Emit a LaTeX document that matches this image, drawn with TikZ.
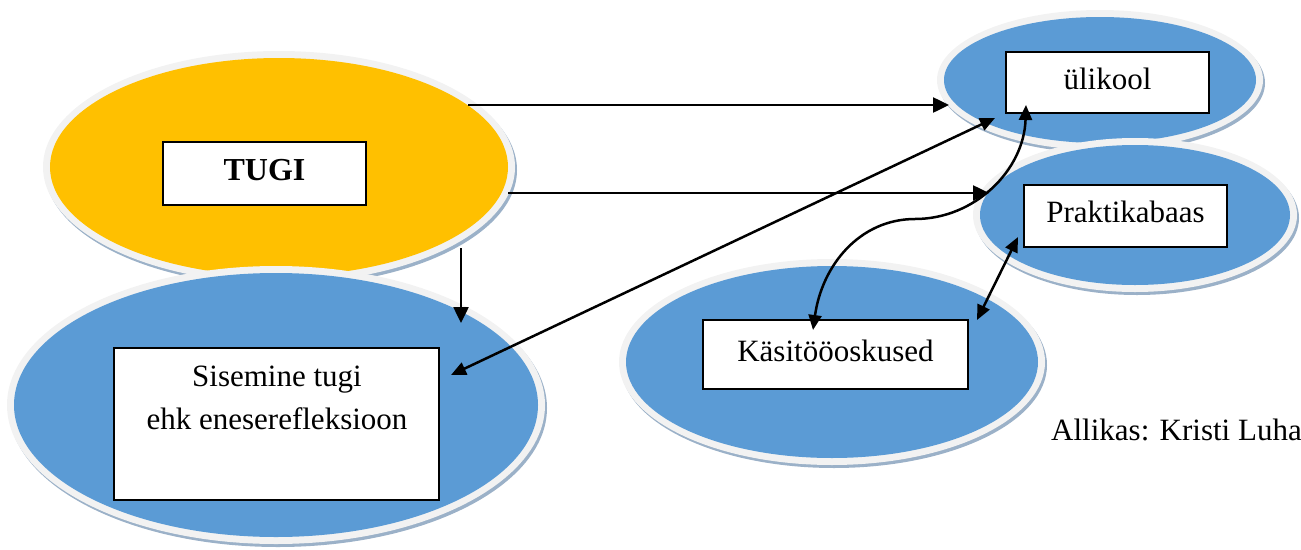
\documentclass[tikz,border=0pt]{standalone}
\usepackage{fontspec}
\setmainfont{Liberation Serif}
\usetikzlibrary{arrows.meta,shapes.geometric}
\definecolor{tugiyellow}{HTML}{FFC000}
\definecolor{blobblue}{HTML}{5B9BD5}
\definecolor{rimgray}{HTML}{F2F2F2}
\definecolor{shadowc}{HTML}{9BB1C8}
\newcommand\drawblob[6]{%
  \fill[shadowc] (#2+2,#3+3) ellipse [x radius=#4, y radius=#5];
  \fill[rimgray] (#2,#3) ellipse [x radius=#4, y radius=#5];
  \node[ellipse, fill=#6, inner sep=0pt, minimum width={2*(#4-7)}, minimum height={2*(#5-7)}] (#1) at (#2,#3) {};
}
\begin{document}
\begin{tikzpicture}[x=1pt,y=-1pt,
  box/.style={draw=black, line width=2pt, fill=white, inner sep=0pt,
    text height=21.7pt, text depth=7.75pt, font=\fontsize{31}{43}\selectfont},
  conn/.style={line width=2.5pt, -{Triangle[length=16pt,width=15pt]}},
  dconn/.style={line width=2.5pt, {Triangle[length=15pt,width=13pt]}-{Triangle[length=15pt,width=13pt]}},
]
\useasboundingbox (0,0) rectangle (1301,549);

% ellipses
\drawblob{tugiE}{279}{167}{236}{116}{tugiyellow}
\drawblob{sisE}{276}{405}{269}{139}{blobblue}
\drawblob{ulikE}{1100}{80}{163}{70}{blobblue}
\drawblob{prakE}{1135}{215}{162}{77}{blobblue}
\drawblob{kasE}{832}{362}{213}{103}{blobblue}

% boxes
\node[box, minimum width=203pt, minimum height=63pt, font=\fontsize{32}{40}\selectfont\bfseries] (tugi) at (264.5,173.5) {TUGI};
\node[box, minimum width=203pt, minimum height=61pt] (ulik) at (1107.5,82.5) {ülikool};
\node[box, minimum width=203pt, minimum height=62pt] (prak) at (1125.5,216) {Praktikabaas};
\node[box, minimum width=265pt, minimum height=69pt] (kas) at (835.5,354.5) {Käsitööoskused};
\node[draw=black, line width=2pt, fill=white, minimum width=325pt, minimum height=152pt] (sis) at (276.5,424) {};
\node[anchor=north, inner sep=0pt, align=center, font=\fontsize{31}{43}\selectfont] (sistxt) at (277,366) {Sisemine tugi\\ehk eneserefleksioon};

% source
\node[anchor=base west, inner sep=0pt, font=\fontsize{31}{40}\selectfont] (src) at (1051,440) {Allikas: Kristi Luha};

% connector end points
\coordinate (t1) at (468,105);  \coordinate (u1) at (949,105);
\coordinate (t2) at (508,193);  \coordinate (p1) at (989,193);
\coordinate (t3) at (461,248);  \coordinate (s1) at (461,323);
\coordinate (s2) at (451,375);  \coordinate (u2) at (995,118);
\coordinate (k1) at (977,320);  \coordinate (p2) at (1018,237);
\coordinate (k2) at (813,330);  \coordinate (u3) at (1026,105);
\coordinate (mid) at (915,219);

% connectors
\draw[conn] (t1) -- (u1);
\draw[conn] (t2) -- (p1);
\draw[conn] (t3) -- (s1);
\draw[dconn] (s2) -- (u2);
\draw[dconn] (k1) -- (p2);
\draw[dconn] (k2) .. controls (822,265) and (860,219) .. (mid)
                  .. controls (975,219) and (1024,170) .. (u3);
\end{tikzpicture}
\end{document}
